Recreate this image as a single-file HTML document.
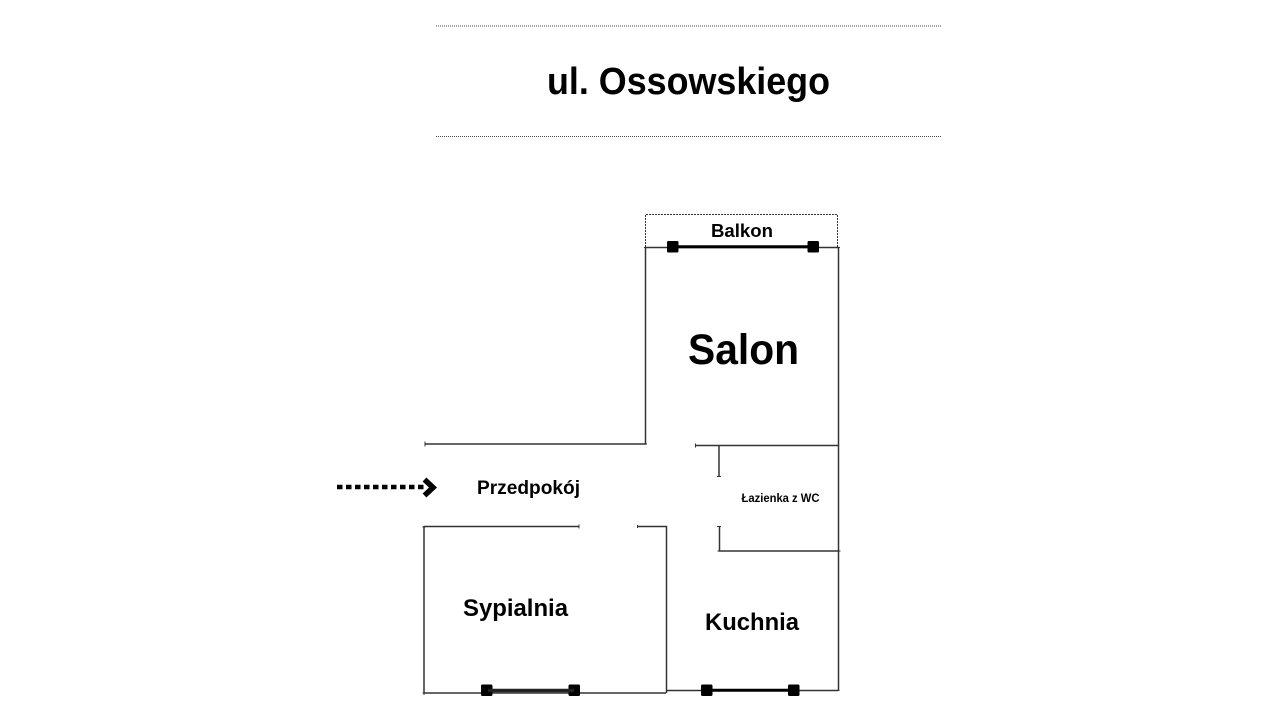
<!DOCTYPE html>
<html>
<head>
<meta charset="utf-8">
<style>
html,body{margin:0;padding:0;background:#fff;width:1280px;height:720px;overflow:hidden}
svg{display:block}
text{font-family:"Liberation Sans",sans-serif;font-weight:bold;fill:#000}
.w{stroke:#333;stroke-width:1.500;fill:none}
.t{stroke:#333;stroke-width:1;fill:none}
</style>
</head>
<body>
<svg width="1280" height="720" viewBox="0 0 1280 720" xmlns="http://www.w3.org/2000/svg">
<line x1="436" y1="26" x2="941" y2="26" stroke="#444" stroke-width="1" stroke-dasharray="1 1"/>
<line x1="436" y1="136.500" x2="941" y2="136.500" stroke="#444" stroke-width="1" stroke-dasharray="1 1"/>

<text x="547" y="94" font-size="38" textLength="283" lengthAdjust="spacingAndGlyphs">ul. Ossowskiego</text>

<!-- Balcony -->
<path d="M645.500 247V214.500H837.500V247" fill="none" stroke="#333" stroke-width="1" stroke-dasharray="2 1"/>
<text x="711" y="237" font-size="18.500" textLength="62" lengthAdjust="spacingAndGlyphs">Balkon</text>

<!-- Salon walls -->
<path class="w" d="M645 247.500H839"/>
<path class="w" d="M645.500 247V444"/>
<path class="w" d="M838.500 247V691"/>
<path class="w" d="M425 444H646"/>
<path class="t" d="M425 441.500v5M644 444h3M644 247.500h3M837 247.500h3"/>

<!-- Bathroom -->
<path class="w" d="M695 445.500H839"/>
<path class="w" d="M719 445.500V477"/>
<path class="t" d="M695.500 443.500v4M717 476.500h4"/>
<path class="w" d="M719.500 526V551H839"/>
<path class="t" d="M717 526.500h4M717.500 551h4M836.500 551h4M838.500 549v4"/>

<!-- Bedroom -->
<path class="w" d="M424 526.500H579"/>
<path class="t" d="M579 524.500v4M422.500 527h3"/>
<path class="w" d="M424 526V693"/>
<path class="w" d="M637 526.500H666.500V693"/>
<path class="t" d="M637.500 525v3"/>
<path class="w" d="M424 693H666"/>
<path class="t" d="M424 691v4M422.500 693h3"/>

<!-- Kitchen -->
<path class="w" d="M666 690.500H838"/>
<path class="t" d="M836.500 690.500h3"/>

<!-- Windows -->
<rect x="667" y="241" width="11.500" height="11.500" rx="1.500" fill="#000"/>
<rect x="807.500" y="241" width="11.500" height="11.500" rx="1.500" fill="#000"/>
<line x1="675" y1="246.800" x2="812" y2="246.800" stroke="#000" stroke-width="3"/>

<rect x="481" y="684.500" width="11.500" height="11.500" rx="1.500" fill="#000"/>
<rect x="568.500" y="684.500" width="11.500" height="11.500" rx="1.500" fill="#000"/>
<line x1="488" y1="690.500" x2="574" y2="690.500" stroke="#222" stroke-width="3.500"/>

<rect x="701" y="684.500" width="11.500" height="11.500" rx="1.500" fill="#000"/>
<rect x="788" y="684.500" width="11.500" height="11.500" rx="1.500" fill="#000"/>
<line x1="708" y1="690.300" x2="792" y2="690.300" stroke="#000" stroke-width="3"/>

<!-- Entry arrow -->
<line x1="337" y1="487" x2="424" y2="487" stroke="#000" stroke-width="4.500" stroke-dasharray="5.500 3.500"/>
<path d="M424.500 479.500L433 487.500L424.500 495.500" fill="none" stroke="#000" stroke-width="5.500"/>

<!-- Labels -->
<text x="688" y="364" font-size="43" textLength="111" lengthAdjust="spacingAndGlyphs">Salon</text>
<text x="477" y="494" font-size="19" textLength="103" lengthAdjust="spacingAndGlyphs">Przedpokój</text>
<text x="741.500" y="502" font-size="11.500" textLength="78" lengthAdjust="spacingAndGlyphs">Łazienka z WC</text>
<text x="463" y="616" font-size="24" textLength="105" lengthAdjust="spacingAndGlyphs">Sypialnia</text>
<text x="705" y="630" font-size="24" textLength="94" lengthAdjust="spacingAndGlyphs">Kuchnia</text>
</svg>
</body>
</html>
